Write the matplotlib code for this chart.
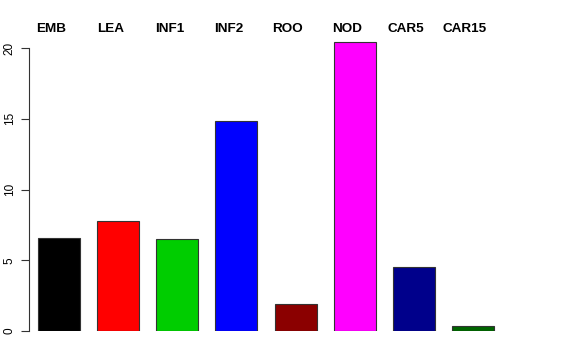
import numpy as np
from matplotlib import pyplot as plt

categories = ["EMB", "LEA", "INF1", "INF2", "ROO", "NOD", "CAR5", "CAR15"]
values = [6.55, 7.75, 6.5, 14.85, 1.9, 20.4, 4.55, 0.35]
colors = ["#000000", "#FF0000", "#00CD00", "#0000FF", "#8B0000", "#FF00FF", "#00008B", "#006400"]
yticks = [0, 5, 10, 15, 20]

W, H = 576, 360
fig = plt.figure(figsize=(W / 100, H / 100), dpi=100)
# axes placed in pixel terms: left spine at x=29, y=0 at row 331
ax = fig.add_axes([29 / W, (H - 331) / H, (560 - 29) / W, (331 - 40) / H])

x = np.arange(len(categories))
ax.bar(x, values, width=0.71, color=colors, edgecolor="#333333", linewidth=0.8)

ax.set_xlim(-0.507, 8.47)
ax.set_ylim(0, (331 - 40) / 14.15)

for s in ["top", "right", "bottom"]:
    ax.spines[s].set_visible(False)
ax.spines["left"].set_bounds(0, 20)
ax.spines["left"].set_color("#333333")
ax.set_xticks([])
ax.set_yticks(yticks)
ax.set_yticklabels([str(t) for t in yticks], rotation=90, va="center",
                   family="Liberation Sans", fontsize=8.5)
ax.tick_params(axis="y", length=5.5, pad=4, colors="#333333", labelcolor="black")

for xi, name in zip(x, categories):
    ax.text(xi - 0.135, (331 - 29) / 14.15, name, ha="center", va="center",
            fontsize=9.7, fontweight="bold", family="Liberation Sans", clip_on=False)

fig.savefig("out.png", dpi=100)
